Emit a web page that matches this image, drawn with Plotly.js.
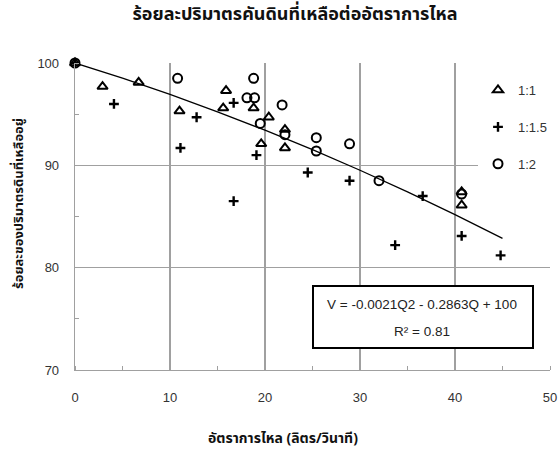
<!DOCTYPE html>
<html>
<head>
<meta charset="utf-8">
<script src="https://cdn.plot.ly/plotly-3.0.1.min.js"></script>
<style>html,body{margin:0;padding:0;background:#fff;}</style>
</head>
<body>
<div id="chart" style="width:558px;height:450px;"></div>
<script>
// Series 1:1 (triangles)
const x11 = [0, 2.9, 6.7, 11.0, 15.6, 15.9, 18.8, 19.6, 20.4, 22.1, 22.1, 40.7, 40.7];
const y11 = [100, 97.7, 98.1, 95.3, 95.6, 97.3, 95.6, 92.1, 94.7, 93.5, 91.7, 87.4, 86.1];
// Series 1:1.5 (plus)
const x115 = [0, 4.1, 11.1, 12.8, 16.7, 16.7, 19.1, 24.5, 28.9, 33.7, 36.6, 40.7, 44.8];
const y115 = [100, 96.0, 91.7, 94.7, 96.1, 86.5, 91.0, 89.3, 88.5, 82.2, 87.0, 83.1, 81.2];
// Series 1:2 (circles)
const x12 = [0, 10.8, 18.1, 18.8, 18.9, 19.5, 21.8, 22.1, 25.4, 25.4, 28.9, 32.0, 40.7];
const y12 = [100, 98.5, 96.6, 98.5, 96.6, 94.1, 95.9, 93.0, 92.7, 91.4, 92.1, 88.5, 87.2];
// Trendline
const xTrend = [0, 5, 10, 15, 20, 25, 30, 35, 40, 45];
const yTrend = [100, 98.52, 96.93, 95.23, 93.43, 91.53, 89.52, 87.41, 85.19, 82.87];
const seriesNames = ['1:1', '1:1.5', '1:2'];
const chartTitle = 'ร้อยละปริมาตรคันดินที่เหลือต่ออัตราการไหล';
const xTitle = 'อัตราการไหล (ลิตร/วินาที)';
const yTitle = 'ร้อยละของปริมาตรดินที่เหลืออยู่';
const eqText = 'V = -0.0021Q2 - 0.2863Q + 100';
const r2Text = 'R² = 0.81';
const xTicks = [0, 10, 20, 30, 40, 50];
const yTicks = [70, 80, 90, 100];

const thai = '"Noto Sans Thai", "Tahoma", "DejaVu Sans", "Liberation Sans", sans-serif';
const latin = '"Liberation Sans", Arial, sans-serif';

const traces = [
  {x: xTrend, y: yTrend, mode: 'lines', line: {color: '#000', width: 1.3}, showlegend: false, hoverinfo: 'skip', cliponaxis: false},
  {x: x11, y: y11, name: seriesNames[0], mode: 'markers', legendgroup: 'a', cliponaxis: false,
   marker: {symbol: 'triangle-up-open', size: 9, color: '#000', line: {width: 2, color: '#000'}}},
  {x: x115, y: y115, name: seriesNames[1], mode: 'markers', legendgroup: 'b', cliponaxis: false,
   marker: {symbol: 'cross-thin-open', size: 7, color: '#000', line: {width: 2.4, color: '#000'}}},
  {x: x12, y: y12, name: seriesNames[2], mode: 'markers', legendgroup: 'c', cliponaxis: false,
   marker: {symbol: 'circle-open', size: 9, color: '#000', line: {width: 2, color: '#000'}}}
];

const gridC = '#a0a0a0';
const layout = {
  width: 558, height: 450,
  margin: {l: 75, r: 8, t: 63, b: 80, autoexpand: false},
  paper_bgcolor: '#fff', plot_bgcolor: '#fff',
  font: {family: latin, size: 12, color: '#333'},
  title: {text: '<b>' + chartTitle + '</b>', x: 295/558, xanchor: 'center', xref: 'container',
          y: 1 - 14/450, yref: 'container', yanchor: 'middle', font: {family: thai, size: 18, color: '#111'}},
  xaxis: {range: [0, 50], tickvals: xTicks, ticktext: xTicks.map(String), showgrid: true, gridcolor: gridC, gridwidth: 1.3,
          showline: true, linecolor: gridC, linewidth: 1.3, zeroline: false, ticks: '', ticklabelstandoff: 15,
          tickfont: {family: latin, size: 13, color: '#333'},
          minor: {dtick: 5, tick0: 0, ticks: 'inside', ticklen: 4, tickcolor: gridC, tickwidth: 1, showgrid: false}},
  yaxis: {range: [70, 100], tickvals: yTicks, ticktext: yTicks.map(String), showgrid: true, gridcolor: gridC, gridwidth: 1.3,
          showline: true, linecolor: gridC, linewidth: 1.3, zeroline: false, ticks: '', ticklabelstandoff: 12,
          tickfont: {family: latin, size: 13, color: '#333'},
          minor: {dtick: 5, tick0: 0, ticks: 'inside', ticklen: 4, tickcolor: gridC, tickwidth: 1, showgrid: false}},
  legend: {x: (478-75)/475, xanchor: 'left', y: 1 - (75-63)/307, yanchor: 'top', bgcolor: '#fff',
           font: {family: latin, size: 13, color: '#333'}, tracegroupgap: 17, traceorder: 'grouped'},
  shapes: [{type: 'rect', xref: 'paper', yref: 'paper',
            x0: (313-75)/475, x1: (533-75)/475, y0: (370-348)/307, y1: (370-286)/307,
            line: {color: '#000', width: 2}, fillcolor: '#fff', layer: 'above'}],
  annotations: [
    {text: eqText, xref: 'paper', yref: 'paper', x: (422-75)/475, y: (370-304)/307, showarrow: false,
     xanchor: 'center', yanchor: 'middle', font: {family: latin, size: 13.5, color: '#222'}},
    {text: r2Text, xref: 'paper', yref: 'paper', x: (422-75)/475, y: (370-331)/307, showarrow: false,
     xanchor: 'center', yanchor: 'middle', font: {family: latin, size: 13.5, color: '#222'}},
    {text: '<b>' + xTitle + '</b>', xref: 'paper', yref: 'paper', x: (283-75)/475, y: (370-438)/307, showarrow: false,
     xanchor: 'center', yanchor: 'middle', font: {family: thai, size: 14, color: '#111'}},
    {text: '<b>' + yTitle + '</b>', xref: 'paper', yref: 'paper', x: (19-75)/475, y: (370-204)/307, showarrow: false,
     textangle: -90, xanchor: 'center', yanchor: 'middle', font: {family: thai, size: 13, color: '#111'}}
  ]
};

Plotly.newPlot('chart', traces, layout, {displayModeBar: false, staticPlot: true});
</script>
</body>
</html>
